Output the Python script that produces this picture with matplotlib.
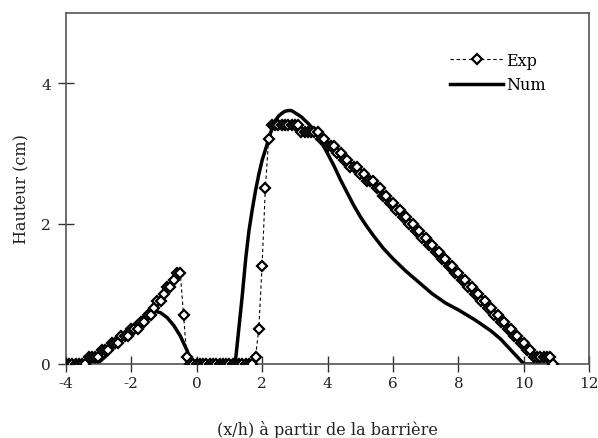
import matplotlib
matplotlib.use("Agg")
import matplotlib.pyplot as plt

plt.rcParams['font.family'] = ['DejaVu Serif']
plt.rcParams['axes.unicode_minus'] = False

# Experimental data (x/h, height in cm)
exp_x = [-4.0, -3.9, -3.8, -3.7, -3.6, -3.5, -3.4, -3.3, -3.2, -3.1,
         -3.0, -2.9, -2.8, -2.7, -2.6, -2.5, -2.4, -2.3, -2.2, -2.1,
         -2.0, -1.9, -1.8, -1.7, -1.6, -1.5, -1.4, -1.3, -1.2, -1.1,
         -1.0, -0.9, -0.8, -0.7, -0.6, -0.5, -0.4, -0.3, -0.2, -0.1,
         0.0, 0.1, 0.2, 0.3, 0.4, 0.5, 0.6, 0.7, 0.8, 0.9,
         1.0, 1.1, 1.2, 1.3, 1.4, 1.5, 1.6, 1.7, 1.8, 1.9,
         2.0, 2.1, 2.2, 2.3, 2.4, 2.5, 2.6, 2.7, 2.8, 2.9,
         3.0, 3.1, 3.2, 3.3, 3.4, 3.5, 3.6, 3.7, 3.8, 3.9,
         4.0, 4.1, 4.2, 4.3, 4.4, 4.5, 4.6, 4.7, 4.8, 4.9,
         5.0, 5.1, 5.2, 5.3, 5.4, 5.5, 5.6, 5.7, 5.8, 5.9,
         6.0, 6.1, 6.2, 6.3, 6.4, 6.5, 6.6, 6.7, 6.8, 6.9,
         7.0, 7.1, 7.2, 7.3, 7.4, 7.5, 7.6, 7.7, 7.8, 7.9,
         8.0, 8.1, 8.2, 8.3, 8.4, 8.5, 8.6, 8.7, 8.8, 8.9,
         9.0, 9.1, 9.2, 9.3, 9.4, 9.5, 9.6, 9.7, 9.8, 9.9,
         10.0, 10.1, 10.2, 10.3, 10.4, 10.5, 10.6, 10.7, 10.8, 10.9]
exp_y = [0, 0, 0, 0, 0, 0, 0, 0.1, 0.1, 0.1,
         0.1, 0.2, 0.2, 0.2, 0.3, 0.3, 0.3, 0.4, 0.4, 0.4,
         0.5, 0.5, 0.5, 0.6, 0.6, 0.7, 0.7, 0.8, 0.9, 0.9,
         1.0, 1.1, 1.1, 1.2, 1.3, 1.3, 0.7, 0.1, 0, 0,
         0, 0, 0, 0, 0, 0, 0, 0, 0, 0,
         0, 0, 0, 0, 0, 0, 0, 0, 0.1, 0.5,
         1.4, 2.5, 3.2, 3.4, 3.4, 3.4, 3.4, 3.4, 3.4, 3.4,
         3.4, 3.4, 3.3, 3.3, 3.3, 3.3, 3.3, 3.3, 3.2, 3.2,
         3.1, 3.1, 3.1, 3.0, 3.0, 2.9, 2.9, 2.8, 2.8, 2.8,
         2.7, 2.7, 2.6, 2.6, 2.6, 2.5, 2.5, 2.4, 2.4, 2.3,
         2.3, 2.2, 2.2, 2.1, 2.1, 2.0, 2.0, 1.9, 1.9, 1.8,
         1.8, 1.7, 1.7, 1.6, 1.6, 1.5, 1.5, 1.4, 1.4, 1.3,
         1.3, 1.2, 1.2, 1.1, 1.1, 1.0, 1.0, 0.9, 0.9, 0.8,
         0.8, 0.7, 0.7, 0.6, 0.6, 0.5, 0.5, 0.4, 0.4, 0.3,
         0.3, 0.2, 0.2, 0.1, 0.1, 0.1, 0.1, 0.1, 0.1, 0]

# Numerical result
num_x = [-4.0, -3.1, -3.0, -2.8, -2.6, -2.4, -2.2, -2.0, -1.8, -1.6, -1.4, -1.25,
         -1.1, -0.9, -0.7, -0.5, -0.3, -0.15, -0.1, 1.15, 1.2, 1.3, 1.4, 1.5,
         1.6, 1.7, 1.8, 1.9, 2.0, 2.1, 2.2, 2.3, 2.4, 2.5, 2.6, 2.7, 2.8, 2.9,
         3.0, 3.2, 3.4, 3.6, 3.8, 4.0, 4.2, 4.4, 4.6, 4.8, 5.0, 5.2, 5.4, 5.7,
         6.0, 6.4, 6.8, 7.2, 7.6, 8.0, 8.5, 9.0, 9.3, 9.6, 9.8, 10.0, 10.9]
num_y = [0, 0, 0.02, 0.1, 0.2, 0.3, 0.42, 0.52, 0.61, 0.68, 0.73, 0.75,
         0.73, 0.66, 0.55, 0.4, 0.2, 0.03, 0, 0, 0.1, 0.55, 1.0, 1.5,
         1.9, 2.2, 2.47, 2.7, 2.9, 3.05, 3.2, 3.35, 3.46, 3.53, 3.57, 3.6, 3.61, 3.61,
         3.58, 3.52, 3.43, 3.33, 3.17, 3.0, 2.82, 2.62, 2.44, 2.26, 2.1, 1.96, 1.83, 1.65,
         1.5, 1.32, 1.16, 1.0, 0.87, 0.77, 0.63, 0.47, 0.35, 0.2, 0.1, 0.0, 0]

x_ticks = [-4, -2, 0, 2, 4, 6, 8, 10, 12]
y_ticks = [0, 2, 4]

fig = plt.figure(figsize=(5.98, 4.39), dpi=100)
ax = fig.add_axes([0.1099, 0.1686, 0.8756, 0.7995])

ln_num, = ax.plot(num_x, num_y, color='black', lw=2.5, solid_joinstyle='round',
                  zorder=2, label='Num')
ln_exp, = ax.plot(exp_x, exp_y, color='black', lw=0.8, ls=(0, (3, 2.5)),
                  marker='D', ms=5, mfc='white', mec='black', mew=1.6,
                  zorder=3, label='Exp')

ax.set_xlim(-4, 12)
ax.set_ylim(0, 5)
ax.set_xticks(x_ticks)
ax.set_yticks(y_ticks)
ax.tick_params(direction='inout', length=11, width=1, colors='#333333',
               labelsize=11, labelcolor='#222222')
ax.tick_params(axis='y', pad=5)
ax.tick_params(axis='x', pad=3)
for s in ax.spines.values():
    s.set_color('#555555')
    s.set_linewidth(1.2)

ax.set_xlabel('(x/h) à partir de la barrière', fontsize=11.5, color='#222222',
              labelpad=22)
ax.set_ylabel('Hauteur (cm)', fontsize=11.5, color='#222222', labelpad=8)

leg = ax.legend([ln_exp, ln_num], ['Exp', 'Num'], loc='upper right',
                bbox_to_anchor=(0.917, 0.889), frameon=False, fontsize=11.5,
                numpoints=1, handlelength=3.3, handletextpad=0.2,
                labelspacing=0.45, borderpad=0, borderaxespad=0)

fig.savefig('out.png', dpi=100)
